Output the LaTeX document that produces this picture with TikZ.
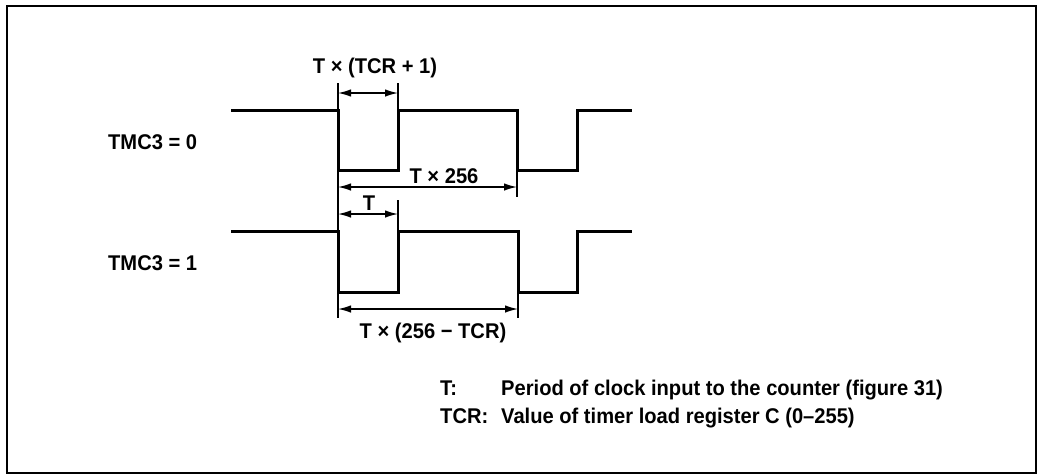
\documentclass[tikz,border=0pt]{standalone}
\usepackage{fontspec}
\usepackage{graphicx}
\setmainfont{Liberation Sans}
\usetikzlibrary{arrows.meta}
\newcommand{\cond}[1]{\scalebox{0.945}[1]{#1}}
\begin{document}
\begin{tikzpicture}[x=1pt,y=-1pt,
  wave/.style={line width=3pt, line join=miter},
  extline/.style={line width=1.3pt},
  dimarrow/.style={line width=1.4pt, {Latex[length=13pt,width=7.5pt]}-{Latex[length=13pt,width=7.5pt]}},
  lbl/.style={font=\fontsize{21.3}{25}\selectfont\bfseries, inner sep=0pt, anchor=base},
  lblw/.style={lbl, anchor=base west},
]
\useasboundingbox (0,0) rectangle (1038,475);
\draw[line width=2pt] (6.5,6) rectangle (1036,473);

% waveform TMC3 = 0
\coordinate (a0) at (231,110);
\coordinate (a1) at (338,110);
\coordinate (a2) at (338,170);
\coordinate (a3) at (398,170);
\coordinate (a4) at (398,110);
\coordinate (a5) at (517,110);
\coordinate (a6) at (517,170);
\coordinate (a7) at (577,170);
\coordinate (a8) at (577,110);
\coordinate (a9) at (632,110);
\draw[wave] (a0) -- (a1) -- (a2) -- (a3) -- (a4) -- (a5) -- (a6) -- (a7) -- (a8) -- (a9);

% waveform TMC3 = 1
\coordinate (b0) at (231,231);
\coordinate (b1) at (338,231);
\coordinate (b2) at (338,292);
\coordinate (b3) at (398,292);
\coordinate (b4) at (398,231);
\coordinate (b5) at (518,231);
\coordinate (b6) at (518,292);
\coordinate (b7) at (577,292);
\coordinate (b8) at (577,231);
\coordinate (b9) at (632,231);
\draw[wave] (b0) -- (b1) -- (b2) -- (b3) -- (b4) -- (b5) -- (b6) -- (b7) -- (b8) -- (b9);

% extension lines
\coordinate (e1t) at (338,83);
\coordinate (e2t) at (398,83);
\coordinate (e3b) at (517,197);
\coordinate (e4t) at (398,200);
\coordinate (e5b) at (338,318);
\coordinate (e6b) at (518,318);
\draw[extline] (e1t) -- (a1);
\draw[extline] (e2t) -- (a4);
\draw[extline] (a2) -- (e5b);
\draw[extline] (a6) -- (e3b);
\draw[extline] (e4t) -- (b4);
\draw[extline] (b6) -- (e6b);

% dimension arrows
\coordinate (d1l) at (338,93);  \coordinate (d1r) at (398,93);
\coordinate (d2l) at (338,187); \coordinate (d2r) at (517,187);
\coordinate (d3l) at (338,214); \coordinate (d3r) at (398,214);
\coordinate (d4l) at (338,309); \coordinate (d4r) at (518,309);
\draw[dimarrow] (d1l) -- (d1r);
\draw[dimarrow] (d2l) -- (d2r);
\draw[dimarrow] (d3l) -- (d3r);
\draw[dimarrow] (d4l) -- (d4r);

% labels
\node[lbl] (l1) at (375,73) {\cond{T × (TCR + 1)}};
\node[lbl] (l2) at (444,183) {\cond{T × 256}};
\node[lbl] (l3) at (369,210) {\cond{T}};
\node[lbl] (l4) at (433,338) {\cond{T × (256 − TCR)}};
\node[lblw] (s0) at (108,149) {\cond{TMC3 = 0}};
\node[lblw] (s1) at (108,270) {\cond{TMC3 = 1}};

% legend
\node[lblw] (k1) at (440,395) {\cond{T:}};
\node[lblw] (v1) at (501,395) {\cond{Period of clock input to the counter (figure 31)}};
\node[lblw] (k2) at (440,423) {\cond{TCR:}};
\node[lblw] (v2) at (501,423) {\cond{Value of timer load register C (0–255)}};
\end{tikzpicture}
\end{document}
